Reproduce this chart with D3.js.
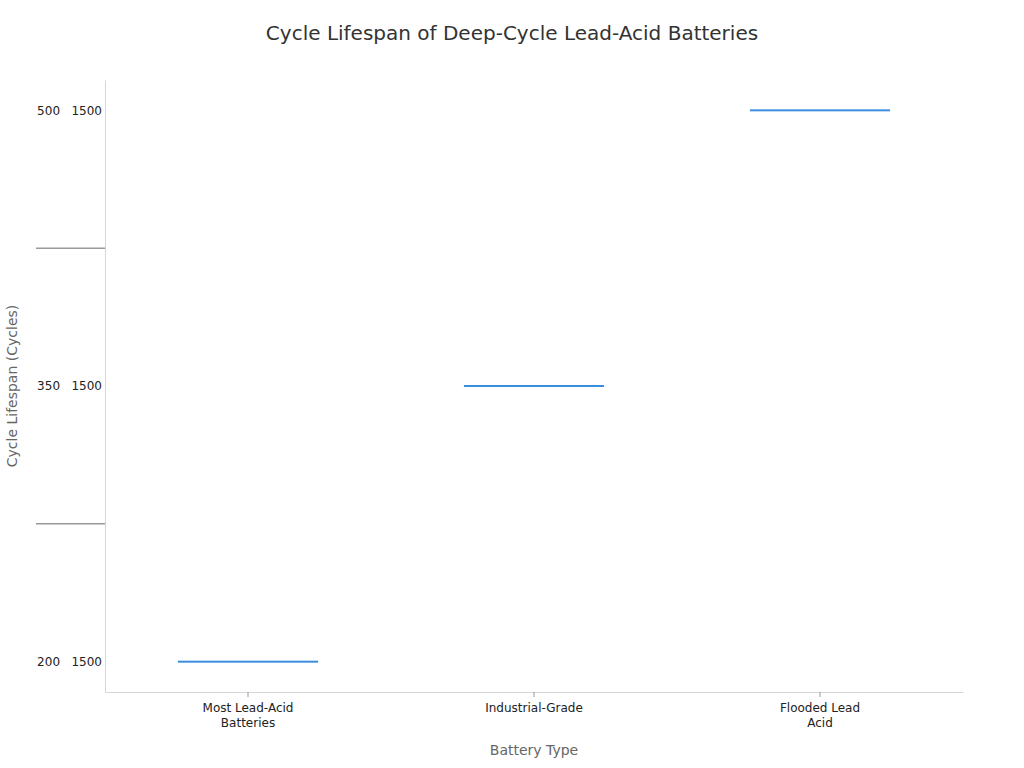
<!DOCTYPE html>
<html>
<head>
<meta charset="utf-8">
<script src="https://cdn.jsdelivr.net/npm/d3@7"></script>
<style>
  body { margin: 0; background: #fff; }
  svg text { font-family: "DejaVu Sans", sans-serif; }
</style>
</head>
<body>
<svg id="chart" width="1024" height="768"></svg>
<script>
const categories = ["Most Lead-Acid Batteries", "Industrial-Grade", "Flooded Lead Acid"];
const labelLines = [["Most Lead-Acid", "Batteries"], ["Industrial-Grade"], ["Flooded Lead", "Acid"]];
const lowCycles = [200, 350, 500];
const highCycles = [1500, 1500, 1500];

const data = categories.map((c, i) => ({
  type: c,
  lines: labelLines[i],
  low: lowCycles[i],
  high: highCycles[i],
  key: lowCycles[i] + "\u00a0\u00a0\u00a0" + highCycles[i]
}));

const margin = { top: 80, right: 61, bottom: 76, left: 105 };
const width = 1024 - margin.left - margin.right;
const height = 768 - margin.top - margin.bottom;

const svg = d3.select("#chart");
const g = svg.append("g").attr("transform", `translate(${margin.left},${margin.top})`);

const x = d3.scaleBand()
  .domain(categories)
  .range([0, width])
  .padding(0);

const y = d3.scalePoint()
  .domain(data.map(d => d.key))
  .range([height, 0])
  .padding(0.11);

// separators between y categories
const keys = y.domain();
const mids = d3.pairs(keys).map(([a, b]) => (y(a) + y(b)) / 2);
g.selectAll(".sep")
  .data(mids)
  .enter().append("line")
  .attr("class", "sep")
  .attr("x1", -69).attr("x2", 0)
  .attr("y1", d => d).attr("y2", d => d)
  .attr("stroke", "#666")
  .attr("stroke-width", 1);

// y axis
const yAxis = g.append("g").call(d3.axisLeft(y).tickSize(0).tickPadding(3));
yAxis.attr("font-family", null);
yAxis.select(".domain").attr("stroke", "#d6d6d6");
yAxis.selectAll("text").attr("fill", "#222").style("font-size", "12px");

// x axis
const xAxis = g.append("g")
  .attr("transform", `translate(0,${height})`)
  .call(d3.axisBottom(x).tickSizeInner(5).tickSizeOuter(0).tickFormat(""));
xAxis.attr("font-family", null);
xAxis.select(".domain").attr("stroke", "#d6d6d6");
xAxis.selectAll(".tick line").attr("stroke", "#999");
xAxis.selectAll(".tick").each(function (d, i) {
  const t = d3.select(this).append("text")
    .attr("fill", "#222")
    .attr("text-anchor", "middle")
    .style("font-size", "12px");
  data[i].lines.forEach((ln, j) => {
    t.append("tspan").attr("x", 0).attr("y", 20 + j * 15).text(ln);
  });
});

// bars (flat, drawn at category position)
const barW = x.bandwidth() * 0.49;
g.selectAll(".bar")
  .data(data)
  .enter().append("rect")
  .attr("class", "bar")
  .attr("x", d => x(d.type) + (x.bandwidth() - barW) / 2)
  .attr("y", d => y(d.key) - 1)
  .attr("width", barW)
  .attr("height", 2)
  .attr("fill", "#3a8ede");

// titles
svg.append("text")
  .attr("x", 512).attr("y", 40)
  .attr("text-anchor", "middle")
  .attr("fill", "#333")
  .style("font-size", "20px")
  .text("Cycle Lifespan of Deep-Cycle Lead-Acid Batteries");

svg.append("text")
  .attr("x", margin.left + width / 2).attr("y", 755)
  .attr("text-anchor", "middle")
  .attr("fill", "#666")
  .style("font-size", "14px")
  .text("Battery Type");

svg.append("text")
  .attr("transform", `translate(17,${margin.top + height / 2}) rotate(-90)`)
  .attr("text-anchor", "middle")
  .attr("fill", "#666")
  .style("font-size", "14px")
  .text("Cycle Lifespan (Cycles)");
</script>
</body>
</html>
